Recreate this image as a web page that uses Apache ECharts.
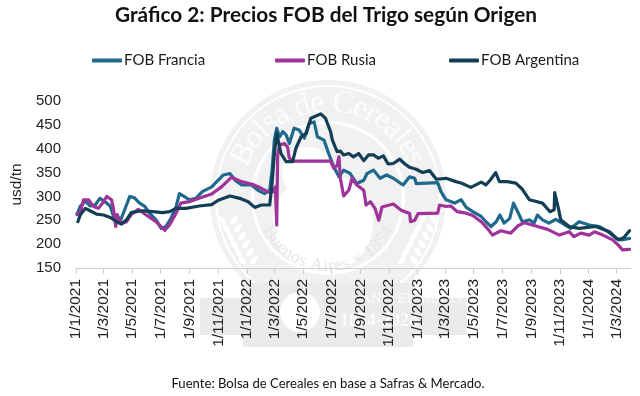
<!DOCTYPE html>
<html>
<head>
<meta charset="utf-8">
<script src="https://cdn.jsdelivr.net/npm/echarts@6/dist/echarts.min.js"></script>
<style>
html, body { margin: 0; padding: 0; background: #fff; }
#chart { width: 640px; height: 396px; }
</style>
</head>
<body>
<div id="chart"></div>
<script>
// valores (fecha, usd/tn)
var francia = [
  ['2021-01-03',262],['2021-01-10',279],['2021-01-21',290],['2021-01-31',280],['2021-02-11',282],['2021-02-21',296],
  ['2021-03-04',289],['2021-03-15',280],['2021-03-25',250],['2021-04-05',247],['2021-04-15',272],['2021-04-26',300],
  ['2021-05-06',297],['2021-05-17',286],['2021-05-28',279],['2021-06-07',265],['2021-06-21',251],['2021-07-02',233],
  ['2021-07-12',237],['2021-07-23',254],['2021-08-03',279],['2021-08-10',306],['2021-08-20',300],['2021-08-31',293],
  ['2021-09-14',296],['2021-09-28',310],['2021-10-18',320],['2021-11-01',334],['2021-11-12',345],['2021-11-26',348],
  ['2021-12-07',334],['2021-12-21',324],['2022-01-11',324],['2022-01-25',313],['2022-02-08',306],['2022-02-19',313],
  ['2022-02-24',355],['2022-03-01',418],['2022-03-06',443],['2022-03-12',425],['2022-03-19',436],['2022-03-26',429],
  ['2022-04-02',411],['2022-04-12',443],['2022-04-23',439],['2022-05-04',422],['2022-05-14',453],['2022-05-25',456],
  ['2022-06-01',425],['2022-06-15',418],['2022-06-25',390],['2022-07-06',362],['2022-07-17',341],['2022-07-27',355],
  ['2022-08-10',348],['2022-08-24',327],['2022-09-08',334],['2022-09-15',348],['2022-09-29',355],['2022-10-13',338],
  ['2022-10-27',345],['2022-11-10',338],['2022-12-01',324],['2022-12-15',341],['2022-12-26',338],['2022-12-29',327],
  ['2023-02-13',329],['2023-02-20',310],['2023-03-03',293],['2023-03-21',286],['2023-04-04',293],['2023-04-15',277],
  ['2023-04-29',268],['2023-05-17',258],['2023-05-27',247],['2023-06-07',237],['2023-06-18',247],['2023-06-26',261],
  ['2023-07-05',244],['2023-07-17',254],['2023-07-25',286],['2023-08-03',268],['2023-08-13',247],['2023-08-28',251],
  ['2023-09-07',244],['2023-09-14',261],['2023-09-25',251],['2023-10-09',244],['2023-10-23',252],['2023-11-06',244],
  ['2023-11-24',233],['2023-12-12',247],['2024-01-03',240],['2024-01-25',237],['2024-02-12',226],['2024-03-01',212],
  ['2024-03-12',209],['2024-03-29',212]
];
var rusia = [
  ['2021-01-03',263],['2021-01-10',265],['2021-01-17',293],['2021-01-28',293],['2021-02-07',279],['2021-02-18',275],
  ['2021-03-01',289],['2021-03-08',300],['2021-03-18',293],['2021-03-22',275],['2021-03-27',237],['2021-03-30',262],
  ['2021-04-08',243],['2021-04-19',247],['2021-04-29',262],['2021-05-14',273],['2021-05-31',261],['2021-06-21',247],
  ['2021-07-10',229],['2021-07-20',240],['2021-08-03',265],['2021-08-13',286],['2021-08-31',289],['2021-09-21',296],
  ['2021-10-18',305],['2021-11-08',320],['2021-11-29',340],['2021-12-21',331],['2022-01-14',325],['2022-02-01',317],
  ['2022-02-19',308],['2022-02-26',310],['2022-03-03',320],['2022-03-06',240],['2022-03-08',387],['2022-03-12',408],
  ['2022-03-22',411],['2022-03-29',404],['2022-04-02',380],['2022-04-12',374],['2022-06-29',374],['2022-07-06',359],
  ['2022-07-13',365],['2022-07-17',383],['2022-07-20',338],['2022-07-27',301],['2022-08-07',313],['2022-08-14',338],
  ['2022-08-24',324],['2022-09-08',313],['2022-09-13',282],['2022-09-22',289],['2022-10-02',275],['2022-10-10',250],
  ['2022-10-17',278],['2022-11-10',284],['2022-11-27',271],['2022-12-15',264],['2022-12-17',247],['2022-12-26',250],
  ['2023-01-02',264],['2023-02-13',265],['2023-02-17',282],['2023-03-03',279],['2023-03-13',280],['2023-03-27',268],
  ['2023-04-15',265],['2023-04-29',260],['2023-05-17',247],['2023-05-30',233],['2023-06-10',219],['2023-06-28',228],
  ['2023-07-19',223],['2023-08-03',238],['2023-08-17',245],['2023-09-11',238],['2023-10-06',231],['2023-10-31',219],
  ['2023-11-21',226],['2023-12-01',216],['2023-12-16',223],['2024-01-03',219],['2024-01-14',226],['2024-02-01',219],
  ['2024-02-22',209],['2024-03-05',198],['2024-03-14',188],['2024-03-29',189]
];
var argentina = [
  ['2021-01-05',247],['2021-01-10',261],['2021-01-21',275],['2021-01-31',270],['2021-02-14',263],['2021-03-01',261],
  ['2021-03-15',256],['2021-03-29',247],['2021-04-08',242],['2021-04-19',251],['2021-04-29',266],['2021-05-10',268],
  ['2021-05-24',270],['2021-06-14',268],['2021-07-05',266],['2021-07-20',268],['2021-08-03',275],['2021-08-24',275],
  ['2021-09-21',280],['2021-10-18',283],['2021-11-01',292],['2021-11-26',301],['2021-12-17',296],['2022-01-04',289],
  ['2022-01-18',277],['2022-02-01',282],['2022-02-19',282],['2022-02-24',327],['2022-03-01',390],['2022-03-06',432],
  ['2022-03-15',390],['2022-03-26',373],['2022-04-09',373],['2022-04-16',401],['2022-04-27',425],['2022-05-08',432],
  ['2022-05-18',464],['2022-06-08',473],['2022-06-18',464],['2022-06-29',436],['2022-07-03',418],['2022-07-10',401],
  ['2022-07-13',394],['2022-07-20',395],['2022-07-27',387],['2022-08-07',390],['2022-08-17',383],['2022-08-28',390],
  ['2022-09-08',375],['2022-09-18',387],['2022-09-29',387],['2022-10-09',380],['2022-10-20',385],['2022-10-30',368],
  ['2022-11-10',369],['2022-11-24',378],['2022-12-05',368],['2022-12-15',361],['2022-12-29',357],['2023-01-12',350],
  ['2023-01-27',354],['2023-02-10',336],['2023-03-03',338],
  ['2023-03-24',331],['2023-04-04',328],['2023-04-25',319],['2023-05-17',330],['2023-05-27',324],['2023-06-05',334],
  ['2023-06-17',350],['2023-06-25',331],['2023-07-12',331],['2023-07-30',328],['2023-08-13',315],['2023-08-28',293],
  ['2023-09-25',286],['2023-10-11',268],['2023-10-20',272],['2023-10-21',308],['2023-10-25',308],['2023-10-29',275],
  ['2023-11-03',251],['2023-11-21',237],['2023-12-12',233],['2024-01-17',237],['2024-02-15',226],['2024-03-05',209],
  ['2024-03-17',214],['2024-03-29',228]
];
var tick_labels = [
  '2021-01-01','2021-03-01','2021-05-01','2021-07-01','2021-09-01','2021-11-01',
  '2022-01-01','2022-03-01','2022-05-01','2022-07-01','2022-09-01','2022-11-01',
  '2023-01-01','2023-03-01','2023-05-01','2023-07-01','2023-09-01','2023-11-01',
  '2024-01-01','2024-03-01'
];

var color_francia = '#1f6a8c';
var color_rusia = '#a0339a';
var color_argentina = '#123f55';
var sello = '#f1f1f1';
var sello_oscuro = '#ebebeb';

function utc(s) { return Date.parse(s + 'T00:00:00Z'); }
function pares(arr) { return arr.map(function (d) { return [utc(d[0]), d[1]]; }); }

function linea(name, data, color) {
  return {
    name: name, type: 'line', data: pares(data), symbol: 'none',
    lineStyle: { color: color, width: 3.2, join: 'round', cap: 'round' },
    itemStyle: { color: color },
    animation: false, silent: true
  };
}

function leyenda(left, name) {
  return {
    left: left, top: 53, data: [name], icon: 'roundRect',
    itemWidth: 30, itemHeight: 4, itemGap: 2, padding: 0,
    textStyle: { fontFamily: 'Lato', fontSize: 15, color: '#1a1a1a', padding: [0, 0, 0, -3] }
  };
}

// sello de agua de la Bolsa, detras del grafico
var cx = 328, cy = 198;
var sello_items = [
  { type: 'circle', shape: { cx: cx, cy: cy, r: 118 }, style: { fill: sello }, z: -10 },
  { type: 'ring', shape: { cx: cx, cy: cy, r: 113, r0: 111 }, style: { fill: '#fff' }, z: -10 },
  { type: 'ring', shape: { cx: cx, cy: cy, r: 77, r0: 74 }, style: { fill: '#fff' }, z: -10 },
  { type: 'circle', shape: { cx: cx - 5, cy: cy + 25, r: 50 }, style: { fill: '#fff' }, z: -10 },
  { type: 'circle', shape: { cx: cx - 20, cy: cy - 25, r: 26 }, style: { fill: '#fff' }, z: -10 },
  { type: 'rect', shape: { x: 200, y: 298, width: 267, height: 37 }, style: { fill: sello_oscuro }, z: -10 },
  { type: 'rect', shape: { x: 243, y: 283, width: 170, height: 64 }, style: { fill: sello_oscuro }, z: -10 },
  { type: 'circle', shape: { cx: 300, cy: 312, r: 20 }, style: { fill: '#fff' }, z: -9 },
  { type: 'text', x: 360, y: 292, style: { text: 'ANIVERSARIO', fontFamily: 'Liberation Sans Narrow', fontSize: 15, fill: '#fbfbfb' }, z: -9 },
  { type: 'text', x: 340, y: 312, style: { text: '1854-2024', fontFamily: 'Liberation Sans Narrow', fontWeight: 'bold', fontSize: 18, fill: '#fbfbfb' }, z: -9 }
];
// espigas de trigo a los lados del sello
[-1, 1].forEach(function (lado) {
  [0, 1, 2, 3, 4, 5].forEach(function (i) {
    [-1, 1].forEach(function (s) {
      sello_items.push({
        type: 'ellipse', x: cx + lado * (100 - i * 4) + s * 6, y: cy + 22 + i * 8,
        rotation: lado * s * 0.6,
        shape: { cx: 0, cy: 0, rx: 2.5, ry: 5 }, style: { fill: '#fff' }, z: -9
      });
    });
  });
});
// texto en arco, cada letra segun su ancho real
var medidor = document.createElement('canvas').getContext('2d');
function arco(texto, radio, centro, size, fill, abajo) {
  medidor.font = size + 'px "Liberation Serif"';
  var total = medidor.measureText(texto).width;
  var avance = -total / 2;
  texto.split('').forEach(function (c) {
    var w = medidor.measureText(c).width;
    var a = (centro * Math.PI / 180) + (abajo ? -1 : 1) * (avance + w / 2) / radio;
    avance += w;
    sello_items.push({
      type: 'text', x: cx + radio * Math.sin(a), y: cy - radio * Math.cos(a),
      rotation: abajo ? Math.PI - a : -a,
      style: { text: c, fontFamily: 'Liberation Serif', fontSize: size, fill: fill, align: 'center', verticalAlign: 'middle' },
      z: -9
    });
  });
}
arco('Bolsa de Cereales', 95, 0, 32, '#fcfcfc', false);
arco('Buenos Aires × 1854', 68, 180, 18, '#e6e6e6', true);

var chart = echarts.init(document.getElementById('chart'), null, { renderer: 'canvas' });
chart.setOption({
  animation: false,
  backgroundColor: '#fff',
  title: [
    { text: 'Gráfico 2: Precios FOB del Trigo según Origen', left: 321, top: 0, textAlign: 'center',
      textStyle: { fontFamily: 'Lato', fontWeight: 'bold', fontSize: 20.8, color: '#111' } },
    { text: 'Fuente: Bolsa de Cereales en base a Safras & Mercado.', left: 323, top: 372, textAlign: 'center',
      textStyle: { fontFamily: 'Lato', fontWeight: 'normal', fontSize: 13.1, color: '#111' } }
  ],
  legend: [leyenda(92, 'FOB Francia'), leyenda(275, 'FOB Rusia'), leyenda(449, 'FOB Argentina')],
  graphic: sello_items,
  grid: { left: 76, top: 101, width: 554, height: 167 },
  xAxis: {
    type: 'value',
    min: utc('2021-01-01'),
    max: utc('2024-03-30'),
    axisLine: { lineStyle: { color: '#cfcfcf' } },
    axisTick: { show: true, length: 6, lineStyle: { color: '#cfcfcf' }, customValues: tick_labels.map(utc) },
    splitLine: { show: false },
    axisLabel: {
      customValues: tick_labels.map(utc),
      rotate: 90, margin: 11, hideOverlap: false,
      fontFamily: 'Liberation Sans', fontSize: 15.5, color: '#222',
      formatter: function (v) {
        var d = new Date(v);
        return d.getUTCDate() + '/' + (d.getUTCMonth() + 1) + '/' + d.getUTCFullYear();
      }
    }
  },
  yAxis: {
    type: 'value', min: 150, max: 500, interval: 50,
    name: 'usd/tn', nameLocation: 'middle', nameGap: 42, nameRotate: 90,
    nameTextStyle: { fontFamily: 'Liberation Sans', fontSize: 15.5, color: '#222' },
    axisLine: { show: false }, axisTick: { show: false }, splitLine: { show: false },
    axisLabel: { margin: 15, fontFamily: 'Liberation Sans', fontSize: 15, color: '#222' }
  },
  series: [
    linea('FOB Francia', francia, color_francia),
    linea('FOB Rusia', rusia, color_rusia),
    linea('FOB Argentina', argentina, color_argentina)
  ]
});
</script>
</body>
</html>
